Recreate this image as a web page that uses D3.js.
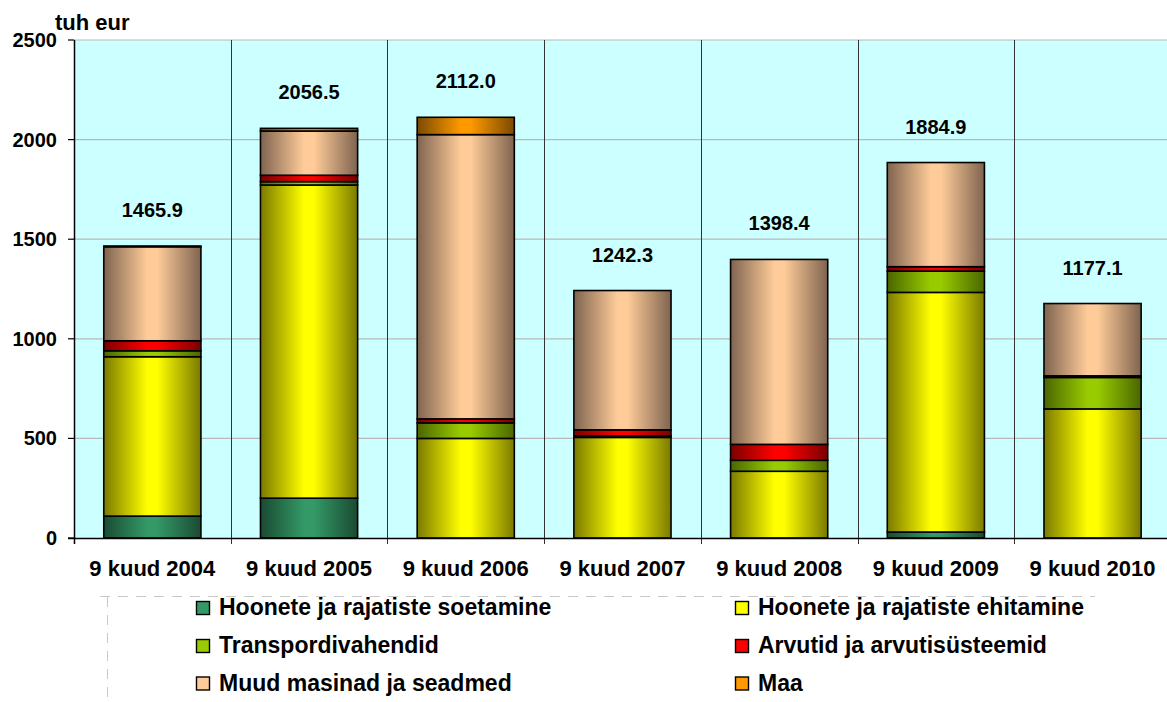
<!DOCTYPE html>
<html>
<head>
<meta charset="utf-8">
<script src="https://cdn.jsdelivr.net/npm/d3@7"></script>
<style>
  body { margin: 0; background: #fff; }
  svg { display: block; font-family: "Liberation Sans", Arial, sans-serif; }
</style>
</head>
<body>
<svg id="chart" width="1167" height="702"></svg>
<script>
// categories and series (tuh eur)
const years = ["9 kuud 2004", "9 kuud 2005", "9 kuud 2006", "9 kuud 2007", "9 kuud 2008", "9 kuud 2009", "9 kuud 2010"];
const soetamine = [110, 200, 0, 0, 0, 30, 0];
const ehitamine = [800, 1572, 500, 505, 335, 1203, 648];
const transport = [30, 17, 78, 8, 55, 107, 158];
const arvutid = [50, 32, 20, 30, 80, 22, 8];
const muud = [472, 222, 1427, 699.3, 928.4, 522.9, 363.1];
const maa = [3.9, 13.5, 87, 0, 0, 0, 0];
const totals = [1465.9, 2056.5, 2112.0, 1242.3, 1398.4, 1884.9, 1177.1];
const yTicks = [0, 500, 1000, 1500, 2000, 2500];

const seriesNames = ["Hoonete ja rajatiste soetamine", "Hoonete ja rajatiste ehitamine", "Transpordivahendid",
  "Arvutid ja arvutisüsteemid", "Muud masinad ja seadmed", "Maa"];
const seriesValues = [soetamine, ehitamine, transport, arvutid, muud, maa];
// light (centre) and dark (edge) colour per series
const lightCol = ["#339966", "#ffff00", "#99cc00", "#ff0000", "#ffcc99", "#ff9900"];
const darkCol = ["#1a4a33", "#7a7a00", "#4a6600", "#7a0000", "#7f6450", "#7a4a00"];

const svg = d3.select("#chart");
const plotLeft = 74, plotTop = 40, plotBottom = 538, step = 156.7;

const x = d3.scaleBand().domain(years).range([plotLeft, plotLeft + step * years.length]);
const xBar = d3.scaleBand().domain(years).range([plotLeft, plotLeft + step * years.length])
  .paddingInner(0.38).paddingOuter(0.19);
const y = d3.scaleLinear().domain([0, 2500]).range([plotBottom, plotTop]);

// gradients
const defs = svg.append("defs");
seriesNames.forEach((s, i) => {
  const g = defs.append("linearGradient").attr("id", "grad" + i)
    .attr("x1", "0%").attr("x2", "100%").attr("y1", "0%").attr("y2", "0%");
  g.append("stop").attr("offset", "0%").attr("stop-color", darkCol[i]);
  g.append("stop").attr("offset", "45%").attr("stop-color", lightCol[i]);
  g.append("stop").attr("offset", "55%").attr("stop-color", lightCol[i]);
  g.append("stop").attr("offset", "100%").attr("stop-color", darkCol[i]);
});

// plot background
svg.append("rect")
  .attr("x", plotLeft).attr("y", plotTop)
  .attr("width", 1167 - plotLeft).attr("height", plotBottom - plotTop)
  .attr("fill", "#ccffff");

// gridlines
svg.append("g").selectAll("line")
  .data(yTicks.filter(d => d > 0))
  .enter().append("line")
  .attr("x1", plotLeft).attr("x2", 1167)
  .attr("y1", d => y(d)).attr("y2", d => y(d))
  .attr("stroke", "#b8b8b8").attr("stroke-width", 1.2);

// category separators
svg.append("g").selectAll("line")
  .data(years.slice(1))
  .enter().append("line")
  .attr("x1", d => Math.round(x(d)) + 0.5).attr("x2", d => Math.round(x(d)) + 0.5)
  .attr("y1", plotTop).attr("y2", plotBottom + 6)
  .attr("stroke", "#333").attr("stroke-width", 1);

// stacked bars
const stackData = years.map((yr, j) => {
  const row = { year: yr };
  seriesNames.forEach((s, i) => row[s] = seriesValues[i][j]);
  return row;
});
const stacked = d3.stack().keys(seriesNames)(stackData);

stacked.forEach((layer, i) => {
  svg.append("g").selectAll("rect")
    .data(layer.filter(d => d[1] - d[0] > 0))
    .enter().append("rect")
    .attr("x", d => xBar(d.data.year))
    .attr("width", xBar.bandwidth())
    .attr("y", d => y(d[1]))
    .attr("height", d => y(d[0]) - y(d[1]))
    .attr("fill", "url(#grad" + i + ")")
    .attr("stroke", "#000")
    .attr("stroke-width", 1.6);
});

// total labels
svg.append("g").selectAll("text")
  .data(totals)
  .enter().append("text")
  .attr("x", (d, i) => x(years[i]) + x.bandwidth() / 2)
  .attr("y", d => y(d) - 29)
  .attr("text-anchor", "middle")
  .attr("font-size", 20).attr("font-weight", "bold")
  .text(d => d.toFixed(1));

// axes lines
svg.append("line")
  .attr("x1", plotLeft - 6).attr("x2", 1167)
  .attr("y1", plotBottom + 0.5).attr("y2", plotBottom + 0.5)
  .attr("stroke", "#000").attr("stroke-width", 1.5);
svg.append("line")
  .attr("x1", plotLeft + 0.5).attr("x2", plotLeft + 0.5)
  .attr("y1", plotTop).attr("y2", plotBottom + 6)
  .attr("stroke", "#000").attr("stroke-width", 1.5);

// y ticks
const yt = svg.append("g").selectAll("g")
  .data(yTicks).enter().append("g");
yt.append("line")
  .attr("x1", plotLeft - 6).attr("x2", plotLeft)
  .attr("y1", d => y(d)).attr("y2", d => y(d))
  .attr("stroke", "#000").attr("stroke-width", 1.2);
yt.append("text")
  .attr("x", 57).attr("y", d => y(d) + 7)
  .attr("text-anchor", "end")
  .attr("font-size", 20).attr("font-weight", "bold")
  .text(d => d);

svg.append("text")
  .attr("x", 55).attr("y", 30)
  .attr("font-size", 22).attr("font-weight", "bold")
  .text("tuh eur");

// x labels
svg.append("g").selectAll("text")
  .data(years).enter().append("text")
  .attr("x", d => x(d) + x.bandwidth() / 2)
  .attr("y", 576)
  .attr("text-anchor", "middle")
  .attr("font-size", 22).attr("font-weight", "bold")
  .text(d => d);

// legend frame (dashed)
svg.append("line")
  .attr("x1", 100).attr("x2", 1095).attr("y1", 596.5).attr("y2", 596.5)
  .attr("stroke", "#c8c8c8").attr("stroke-dasharray", "10,8");
svg.append("line")
  .attr("x1", 107.5).attr("x2", 107.5).attr("y1", 597).attr("y2", 702)
  .attr("stroke", "#c8c8c8").attr("stroke-dasharray", "10,8");

// legend
const legendPos = seriesNames.map((s, i) => ({
  name: s, i: i,
  lx: i % 2 === 0 ? 196 : 735,
  ly: [615, 653, 690.5][Math.floor(i / 2)]
}));
const lg = svg.append("g").selectAll("g").data(legendPos).enter().append("g");
lg.append("rect")
  .attr("x", d => d.lx + 0.5).attr("y", d => d.ly - 13.5)
  .attr("width", 13).attr("height", 13)
  .attr("fill", d => lightCol[d.i])
  .attr("stroke", "#000").attr("stroke-width", 1.4);
lg.append("text")
  .attr("x", d => d.lx + 23).attr("y", d => d.ly)
  .attr("font-size", 23).attr("font-weight", "bold")
  .text(d => d.name);
</script>
</body>
</html>
